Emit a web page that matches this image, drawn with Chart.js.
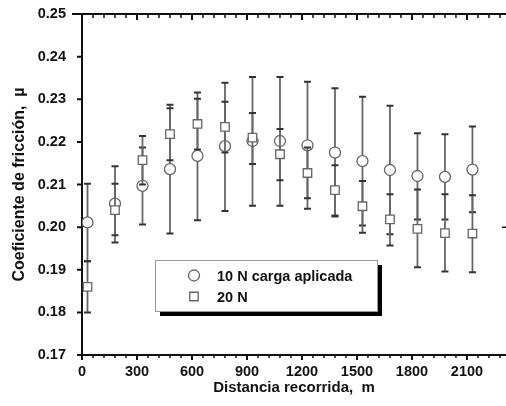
<!DOCTYPE html>
<html>
<head>
<meta charset="utf-8">
<script src="https://cdn.jsdelivr.net/npm/chart.js@4/dist/chart.umd.min.js"></script>
<style>
  html, body { margin: 0; padding: 0; background: #fff; overflow: hidden; }
  #wrap { width: 506px; height: 406px; position: relative; }
</style>
</head>
<body>
<div id="wrap"><canvas id="c"></canvas></div>
<script>
// distancia recorrida (m)
const distance = [30, 180, 330, 480, 630, 780, 930, 1080, 1230, 1380, 1530, 1680, 1830, 1980, 2130]

// 10 N carga aplicada
const mu10     = [0.2011, 0.2055, 0.2097, 0.2136, 0.2167, 0.2190, 0.2202, 0.2202, 0.2192, 0.2175, 0.2155, 0.2134, 0.2120, 0.2118, 0.2135]
const mu10Low  = [0.1920, 0.1964, 0.2006, 0.1985, 0.2016, 0.2038, 0.2050, 0.2050, 0.2043, 0.2025, 0.2004, 0.1983, 0.2018, 0.2018, 0.2035]
const mu10High = [0.2102, 0.2143, 0.2187, 0.2287, 0.2316, 0.2339, 0.2352, 0.2352, 0.2341, 0.2326, 0.2306, 0.2285, 0.2220, 0.2218, 0.2236]

// 20 N
const mu20     = [0.1860, 0.2040, 0.2157, 0.2218, 0.2242, 0.2235, 0.2210, 0.2171, 0.2127, 0.2087, 0.2049, 0.2018, 0.1996, 0.1986, 0.1985]
const mu20Low  = [0.1800, 0.1981, 0.2100, 0.2157, 0.2182, 0.2175, 0.2148, 0.2110, 0.2068, 0.2027, 0.1987, 0.1957, 0.1906, 0.1896, 0.1894]
const mu20High = [0.1920, 0.2102, 0.2214, 0.2279, 0.2301, 0.2294, 0.2268, 0.2230, 0.2187, 0.2145, 0.2108, 0.2077, 0.2088, 0.2077, 0.2075]

// ticks
const xTicks = [0, 300, 600, 900, 1200, 1500, 1800, 2100]
const xMinorStep = 60
const yTicks = [0.17, 0.18, 0.19, 0.20, 0.21, 0.22, 0.23, 0.24, 0.25]

const FONT = "'Liberation Sans', Arial, sans-serif"

const toPoints = (ys) => distance.map((x, i) => ({ x, y: ys[i] }))

// error bars, drawn right before each dataset's markers
const errorBars = {
  id: 'errorBars',
  beforeDatasetDraw(chart, args) {
    const ds = chart.data.datasets[args.index]
    if (!ds.errLow) return
    const { ctx, scales: { x, y } } = chart
    ctx.save()
    ds.data.forEach((p, i) => {
      const px = x.getPixelForValue(p.x)
      const lo = y.getPixelForValue(ds.errLow[i])
      const hi = y.getPixelForValue(ds.errHigh[i])
      ctx.strokeStyle = '#666'
      ctx.lineWidth = 1.8
      ctx.beginPath()
      ctx.moveTo(px, lo)
      ctx.lineTo(px, hi)
      ctx.stroke()
      ctx.strokeStyle = '#333'
      ctx.lineWidth = 2
      ctx.beginPath()
      ctx.moveTo(px - 3.5, lo); ctx.lineTo(px + 3.5, lo)
      ctx.moveTo(px - 3.5, hi); ctx.lineTo(px + 3.5, hi)
      ctx.stroke()
    })
    ctx.restore()
  }
}

// frame: top line, tick marks on all sides
const frame = {
  id: 'frame',
  afterDraw(chart) {
    const { ctx, chartArea: a, scales: { x, y } } = chart
    ctx.save()
    ctx.strokeStyle = '#111'
    ctx.lineWidth = 2
    ctx.beginPath()
    // top line and left axis overshoot
    ctx.moveTo(a.left - 10, a.top); ctx.lineTo(a.right, a.top)
    ctx.moveTo(a.left, a.bottom); ctx.lineTo(a.left, a.bottom + 3)
    // y ticks, outward
    yTicks.forEach(v => {
      const py = y.getPixelForValue(v)
      ctx.moveTo(a.left - 5, py); ctx.lineTo(a.left, py)
    })
    // x major ticks
    xTicks.forEach(v => {
      const px = x.getPixelForValue(v)
      ctx.moveTo(px, a.bottom); ctx.lineTo(px, a.bottom + 5)
      ctx.moveTo(px, a.top); ctx.lineTo(px, a.top + 6)
    })
    ctx.stroke()
    ctx.lineWidth = 1.5
    ctx.beginPath()
    for (let v = 0; v <= x.max; v += xMinorStep) {
      if (v % 300 === 0) continue
      const px = x.getPixelForValue(v)
      ctx.moveTo(px, a.bottom); ctx.lineTo(px, a.bottom + 3)
      ctx.moveTo(px, a.top); ctx.lineTo(px, a.top + 4)
    }
    // right-edge stub at 0.20
    const p20 = y.getPixelForValue(0.20)
    ctx.moveTo(a.right - 4, p20); ctx.lineTo(a.right, p20)
    ctx.stroke()
    ctx.restore()
  }
}

// boxed legend with a solid drop shadow
const boxLegend = {
  id: 'boxLegend',
  afterDraw(chart) {
    const { ctx, chartArea: a } = chart
    const bx = a.left + 73, by = a.top + 246, bw = 222, bh = 51
    ctx.save()
    ctx.fillStyle = '#000'
    ctx.fillRect(bx + 5, by + 5, bw, bh)
    ctx.fillStyle = '#fff'
    ctx.fillRect(bx, by, bw, bh)
    ctx.strokeStyle = '#999'
    ctx.lineWidth = 1
    ctx.strokeRect(bx + 0.5, by + 0.5, bw, bh)

    const items = [chart.data.datasets[1], chart.data.datasets[0]]
    items.forEach((ds, i) => {
      const cy = by + 15.5 + i * 21
      ctx.strokeStyle = ds.pointBorderColor
      ctx.fillStyle = '#fff'
      ctx.lineWidth = ds.pointBorderWidth
      Chart.helpers.drawPoint(ctx, { pointStyle: ds.pointStyle, radius: ds.pointRadius, borderWidth: ds.pointBorderWidth }, bx + 39, cy)
      ctx.fillStyle = '#111'
      ctx.font = `bold 14.5px ${FONT}`
      ctx.textBaseline = 'middle'
      ctx.fillText(ds.label, bx + 62, cy + 1)
    })
    ctx.restore()
  }
}

new Chart(document.getElementById('c'), {
  type: 'scatter',
  data: {
    datasets: [
      {
        label: '20 N',
        data: toPoints(mu20),
        errLow: mu20Low,
        errHigh: mu20High,
        order: 0,
        pointStyle: 'rect',
        pointRadius: 6,
        pointBorderWidth: 1.3,
        pointBorderColor: '#666',
        pointBackgroundColor: '#fff',
        showLine: false
      },
      {
        label: '10 N carga aplicada',
        data: toPoints(mu10),
        errLow: mu10Low,
        errHigh: mu10High,
        order: 1,
        pointStyle: 'circle',
        pointRadius: 5.5,
        pointBorderWidth: 1.3,
        pointBorderColor: '#666',
        pointBackgroundColor: '#fff',
        showLine: false
      }
    ]
  },
  options: {
    responsive: true,
    maintainAspectRatio: false,
    animation: false,
    events: [],
    layout: { autoPadding: false, padding: { top: 14, right: 0, left: 0, bottom: 0 } },
    plugins: { legend: { display: false }, tooltip: { enabled: false } },
    scales: {
      x: {
        type: 'linear',
        min: 0,
        max: 2313,
        afterBuildTicks: (s) => { s.ticks = xTicks.map(v => ({ value: v })) },
        afterFit: (s) => { s.height = 51; s.paddingLeft = 0; s.paddingRight = 0 },
        grid: { display: false, drawTicks: false },
        border: { display: true, color: '#111', width: 2 },
        ticks: {
          autoSkip: false,
          maxRotation: 0,
          padding: 8,
          color: '#111',
          callback: (v) => String(v),
          font: { family: FONT, size: 14.5, weight: 'bold' }
        },
        title: {
          display: true,
          text: 'Distancia recorrida,  m',
          color: '#111',
          padding: { top: 0, bottom: 9 },
          font: { family: FONT, size: 15, weight: 'bold' }
        }
      },
      y: {
        min: 0.17,
        max: 0.25,
        afterBuildTicks: (s) => { s.ticks = yTicks.map(v => ({ value: v })) },
        afterFit: (s) => { s.width = 82; s.paddingTop = 0; s.paddingBottom = 0 },
        grid: { display: false, drawTicks: false },
        border: { display: true, color: '#111', width: 2 },
        ticks: {
          padding: 16,
          color: '#111',
          callback: (v) => v.toFixed(2),
          font: { family: FONT, size: 14.5, weight: 'bold' }
        },
        title: {
          display: true,
          text: 'Coeficiente de fricción,  µ',
          color: '#111',
          padding: { top: 10, bottom: 0 },
          font: { family: FONT, size: 16, weight: 'bold' }
        }
      }
    }
  },
  plugins: [errorBars, frame, boxLegend]
})
</script>
</body>
</html>
